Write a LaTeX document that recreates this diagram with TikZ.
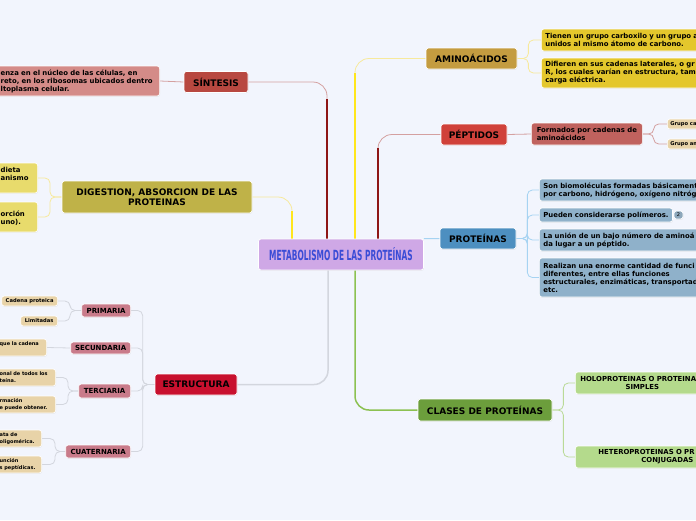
\documentclass[tikz,border=0pt]{standalone}
\usepackage{fontspec}
\setmainfont{DejaVu Sans}
\usepackage{tikz}
\usetikzlibrary{shadows,backgrounds}
\usepackage{xcolor}
\definecolor{bgpaper}{HTML}{F2F5FD}
\definecolor{titlefill}{HTML}{CFA8E6}
\definecolor{titletext}{HTML}{3A4CD6}
\definecolor{sinfill}{HTML}{B84840}
\definecolor{sinleaf}{HTML}{D48B88}
\definecolor{darkred}{HTML}{8E1616}
\definecolor{pinkline}{HTML}{D4A0A0}
\definecolor{digfill}{HTML}{BFB248}
\definecolor{digleaf}{HTML}{E8DB6C}
\definecolor{yelline}{HTML}{FFE61C}
\definecolor{yelpale}{HTML}{F7E99C}
\definecolor{estfill}{HTML}{C8102E}
\definecolor{estsub}{HTML}{C97B8A}
\definecolor{tanleaf}{HTML}{E8D3A8}
\definecolor{grayline}{HTML}{D3D6DE}
\definecolor{amifill}{HTML}{C49C40}
\definecolor{amileaf}{HTML}{E4C72C}
\definecolor{pepfill}{HTML}{D0413A}
\definecolor{pepleaf}{HTML}{C0625E}
\definecolor{profill}{HTML}{4D8FC0}
\definecolor{proleaf}{HTML}{8FB1CA}
\definecolor{blueline}{HTML}{A6D3F2}
\definecolor{clafill}{HTML}{6C9E3C}
\definecolor{claleaf}{HTML}{B4DA8C}
\definecolor{greenline}{HTML}{8CC152}

\tikzset{
  box/.style={draw=white, line width=0.7pt, rounded corners=2.5pt, text=black, inner sep=0pt,
    drop shadow={shadow xshift=0.4pt, shadow yshift=-0.7pt, opacity=0.18}},
  topic/.style={box, font=\fontsize{9}{10.5}\selectfont\bfseries, align=center, minimum height=21pt},
  subtopic/.style={box, fill=estsub, font=\fontsize{7}{8}\selectfont\bfseries, anchor=east},
  leaf/.style={box, font=\fontsize{6.9}{8}\selectfont\bfseries, align=left, inner xsep=4pt, anchor=west},
  lcut/.style={box, font=\fontsize{6.9}{8}\selectfont\bfseries, align=left, inner xsep=6pt, anchor=east},
  tinyleaf/.style={box, fill=tanleaf, font=\fontsize{5.2}{7}\selectfont\bfseries, align=left, inner xsep=3pt},
  tinycut/.style={tinyleaf, anchor=east, inner xsep=2pt, minimum height=17pt,
    font=\fontsize{5}{7}\selectfont\bfseries},
  link/.style={line width=0.8pt, rounded corners=5pt},
  trunk/.style={line width=1.8pt},
}

\begin{document}
\begin{tikzpicture}[x=1pt,y=-1pt]
  \useasboundingbox (0,0) rectangle (696,520);
  \clip (0,0) rectangle (696,520);

  % centre
  \node[box, fill=titlefill, minimum width=165pt, minimum height=31pt, text=titletext,
    font=\fontsize{14}{14}\selectfont\bfseries] (cen) at (341,254.5)
    {\scalebox{0.53}[1]{METABOLISMO DE LAS PROTEÍNAS}};

  % left side
  \node[topic, fill=sinfill, minimum width=64pt] (sin) at (216,82) {SÍNTESIS};
  \node[lcut, fill=sinleaf, text width=153pt, minimum height=30pt] (sinl) at (160,81)
    {enza en el núcleo de las células, en\\reto, en los ribosomas ubicados dentro\\ltoplasma celular.};

  \node[topic, fill=digfill, minimum width=190pt, minimum height=32pt] (dig) at (157,197)
    {DIGESTION, ABSORCION DE LAS\\PROTEINAS};
  \node[lcut, fill=digleaf, text width=31pt, minimum height=30pt] (dig1) at (38,178) {dieta\\anismo\\\mbox{}};
  \node[lcut, fill=digleaf, text width=31pt, minimum height=30pt] (dig2) at (38,217) {\mbox{}\\orción\\uno).};

  \node[topic, fill=estfill, minimum width=82pt] (est) at (196,384.5) {ESTRUCTURA};
  \node[subtopic, minimum width=49pt, minimum height=13pt] (pri) at (131,310.5) {PRIMARIA};
  \node[subtopic, minimum width=60pt, minimum height=12pt] (sec) at (131,348) {SECUNDARIA};
  \node[subtopic, minimum width=52pt, minimum height=14pt] (ter) at (131,391) {TERCIARIA};
  \node[subtopic, minimum width=65pt, minimum height=13pt] (cua) at (131,451.5) {CUATERNARIA};

  \node[tinyleaf, anchor=east, minimum width=56pt, minimum height=10pt] (pri1) at (58,301) {Cadena proteica};
  \node[tinyleaf, anchor=east, minimum width=37pt, minimum height=10pt] (pri2) at (58,321) {Limitadas};
  \node[tinycut, text width=45pt] (secl) at (47,347.5) {\mbox{que la cadena}\\\mbox{}};
  \node[tinycut, text width=54pt] (ter1) at (56,377.5) {\mbox{onal de todos los}\\teína.};
  \node[tinycut, text width=54pt] (ter2) at (56,404.5) {rmación\\\mbox{e puede obtener.}};
  \node[tinycut, text width=40pt] (cua1) at (42,438.5) {ata de\\\mbox{oligomérica.}};
  \node[tinycut, text width=40pt] (cua2) at (42,464.5) {unción\\\mbox{s peptídicas.}};

  % right side
  \node[topic, fill=amifill, minimum width=91pt] (ami) at (471.5,58.5) {AMINOÁCIDOS};
  \node[leaf, fill=amileaf, text width=220pt, minimum height=22pt] (al1) at (541,40)
    {Tienen un grupo carboxilo y un grupo a\\unidos al mismo átomo de carbono.};
  \node[leaf, fill=amileaf, text width=220pt, minimum height=30pt] (al2) at (541,73)
    {Difieren en sus cadenas laterales, o gr\\R, los cuales varían en estructura, tam\\carga eléctrica.};

  \node[topic, fill=pepfill, minimum width=66pt] (pep) at (474,134.5) {PÉPTIDOS};
  \node[leaf, fill=pepleaf, minimum width=111pt, minimum height=22pt] (pl) at (531,134)
    {Formados por cadenas de\\aminoácidos};
  \node[tinyleaf, anchor=west, text width=50pt, minimum height=10pt] (ps1) at (667,124) {Grupo ca};
  \node[tinyleaf, anchor=west, text width=50pt, minimum height=10pt] (ps2) at (667,144) {Grupo am};

  \node[topic, fill=profill, minimum width=76pt] (pro) at (478,238.5) {PROTEÍNAS};
  \node[leaf, fill=proleaf, text width=220pt, minimum height=22pt] (pr1) at (539,190)
    {Son biomoléculas formadas básicament\\por carbono, hidrógeno, oxígeno nitróg};
  \node[leaf, fill=proleaf, minimum width=133pt, minimum height=14pt] (pr2) at (539,215)
    {Pueden considerarse polímeros.};
  \node[box, fill=proleaf!80!gray, minimum width=9pt, minimum height=8pt,
    font=\fontsize{5}{5}\selectfont] (badge) at (678.5,215) {2};
  \node[leaf, fill=proleaf, text width=220pt, minimum height=22pt] (pr3) at (539,240)
    {La unión de un bajo número de aminoá\\da lugar a un péptido.};
  \node[leaf, fill=proleaf, text width=220pt, minimum height=39pt] (pr4) at (539,277.5)
    {Realizan una enorme cantidad de funci\\diferentes, entre ellas funciones\\estructurales, enzimáticas, transportad\\etc.};

  \node[topic, fill=clafill, minimum width=134pt, minimum height=22pt] (cla) at (485,410) {CLASES DE PROTEÍNAS};
  \node[leaf, fill=claleaf, align=center, inner xsep=5pt, text width=124pt, minimum height=22pt] (cl1) at (575,383)
    {\makebox[124pt][l]{HOLOPROTEINAS O PROTEINA}\\SIMPLES};
  \node[leaf, fill=claleaf, align=center, inner xsep=5pt, text width=174pt, minimum height=22pt] (cl2) at (575,457)
    {\makebox[138pt][l]{HETEROPROTEINAS O PR}\\CONJUGADAS};

  \begin{scope}[on background layer]
    \fill[bgpaper] (0,0) rectangle (696,520);
    % main branches
    \draw[link, pinkline, rounded corners=14pt] (sin.east) -| ([xshift=-14pt]cen.north);
    \draw[trunk, darkred] ([xshift=-14pt]cen.north) -- ++(0,-140);
    \draw[link, yelpale, rounded corners=14pt] (dig.east) -| ([xshift=-49pt]cen.north);
    \draw[trunk, yelline] ([xshift=-49pt]cen.north) -- ++(0,-28);
    \draw[link, yelpale, rounded corners=14pt] ([xshift=14pt]cen.north) |- (ami.west);
    \draw[trunk, yelline] ([xshift=14pt]cen.north) -- ++(0,-166);
    \draw[link, pinkline, rounded corners=14pt] ([xshift=37pt]cen.north) |- (pep.west);
    \draw[trunk, darkred] ([xshift=37pt]cen.north) -- ++(0,-91);
    \draw[link, blueline, line width=1pt] (cen.north east) -- (pro.west);
    \draw[grayline, line width=1.5pt, rounded corners=14pt] ([xshift=-13pt]cen.south) |- (est.east);
    \draw[greenline, line width=1.5pt, rounded corners=14pt] ([xshift=14pt]cen.south) |- (cla.west);
    % sub branches
    \draw[link, pinkline] (sinl.east) -- (sin.west);
    \foreach \n in {dig1,dig2} \draw[link, yelpale] (\n.east) -- ++(12,0) |- (dig.west);
    \foreach \n in {pri,sec,ter,cua} \draw[link, grayline] (est.west) -- ++(-12,0) |- (\n.east);
    \foreach \n in {pri1,pri2} \draw[link, grayline] (\n.east) -- ++(12,0) |- (pri.west);
    \draw[link, grayline] (secl.east) -- (sec.west);
    \foreach \n in {ter1,ter2} \draw[link, grayline] (\n.east) -- ++(12,0) |- (ter.west);
    \foreach \n in {cua1,cua2} \draw[link, grayline] (\n.east) -- ++(13,0) |- (cua.west);
    \foreach \n in {al1,al2} \draw[link, yelpale] (ami.east) -- ++(11,0) |- (\n.west);
    \draw[link, pinkline] (pep.east) -- (pl.west);
    \foreach \n in {ps1,ps2} \draw[link, pinkline] (pl.east) -- ++(11,0) |- (\n.west);
    \foreach \n in {pr1,pr2,pr3,pr4} \draw[link, blueline] (pro.east) -- ++(11,0) |- (\n.west);
    \foreach \n in {cl1,cl2} \draw[link, greenline!60] (cla.east) -- ++(11,0) |- (\n.west);
  \end{scope}
\end{tikzpicture}
\end{document}
